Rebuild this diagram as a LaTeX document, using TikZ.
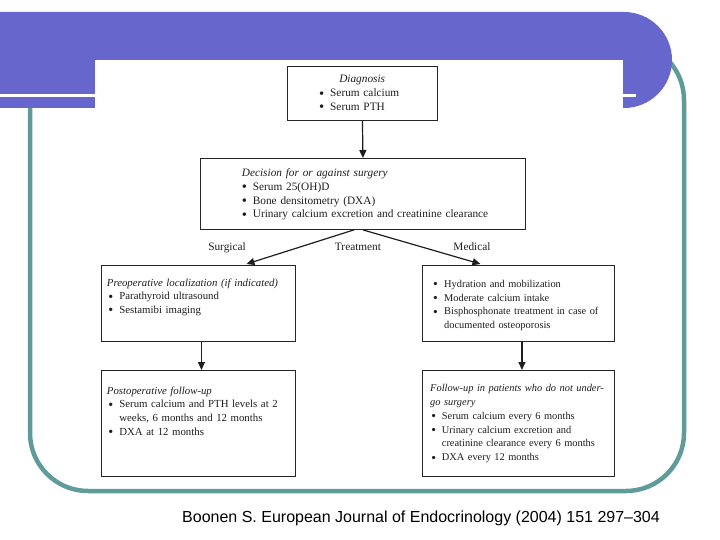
\documentclass[tikz,border=0pt]{standalone}
\usepackage{fontspec}
\setmainfont{Liberation Serif}
\newfontfamily\citefont{Liberation Sans}
\usetikzlibrary{arrows.meta,calc}
\definecolor{banner}{HTML}{6666CC}
\definecolor{frameteal}{HTML}{5F9B98}
\definecolor{ink}{HTML}{1E1E1E}
\newdimen\textind \newdimen\bulw
\newcommand\itmx[1]{\noindent\hangindent=\textind\hangafter=0\relax\llap{\makebox[\bulw][l]{\raisebox{-1.3pt}{\scalebox{1.3}{\textbullet}}}}#1}
\newcommand\itm[1]{\par\itmx{#1}}
\begin{document}
\begin{tikzpicture}[x=1pt,y=-1pt,
  boxst/.style={draw=black!85, line width=0.9pt, fill=white, inner sep=0pt, anchor=north west},
  txt/.style={anchor=base west, inner sep=0pt, text width=#1, align=left, text=ink,
    font=\fontsize{11.3}{13.8}\selectfont},
  lbl/.style={anchor=base, inner sep=0pt, text=ink, font=\fontsize{11.3}{13.8}\selectfont},
  fsmall/.style={font=\fontsize{10.8}{13.8}\selectfont},
  fsmaller/.style={font=\fontsize{10.4}{13.8}\selectfont},
  arr/.style={draw=ink, line width=1.2pt, -{Triangle[length=8pt,width=7pt]}}]
\fill[white] (0,0) rectangle (720,540);
\useasboundingbox (0,0) rectangle (720,540);
% frame and banner
\draw[frameteal, line width=4.5pt, rounded corners=58pt] (30,42) rectangle (684,491);
\fill[banner] (0,12) -- (624,12) arc[start angle=-90, end angle=90, radius=48] -- (0,108) -- cycle;
\draw[white, line width=3pt] (0,96) -- (636,96);
\fill[white] (95,60) rectangle (623,112);
% boxes
\node[boxst, minimum width=150pt, minimum height=54pt] (diag) at (287,66) {};
\node[boxst, minimum width=325pt, minimum height=71pt] (dec) at (200,158) {};
\node[boxst, minimum width=194pt, minimum height=76pt] (pre) at (101,265) {};
\node[boxst, minimum width=192pt, minimum height=76pt] (med) at (422,265) {};
\node[boxst, minimum width=194pt, minimum height=106pt] (post) at (101,370) {};
\node[boxst, minimum width=192pt, minimum height=106pt] (fol) at (422,370) {};
% texts
\node[txt=150pt] (tdiag) at (287,83) {\textind=43pt\bulw=11pt{\centering\textit{Diagnosis}\par}\itm{Serum calcium}\itm{Serum PTH}\par};
\node[txt=290pt] (tdec) at (241.7,176.5) {\textind=11pt\bulw=11pt\textit{Decision for or against surgery}\itm{Serum 25(OH)D}\itm{Bone densitometry (DXA)}\itm{Urinary calcium excretion and creatinine clearance}\par};
\node[txt=250pt, fsmall] (tpre) at (106.7,286) {\textind=12.5pt\bulw=11pt\textit{Preoperative localization (if indicated)}\itm{Parathyroid ultrasound}\itm{Sestamibi imaging}\par};
\node[txt=250pt, fsmaller] (tmed) at (430,287.3) {\textind=14pt\bulw=11pt\itmx{Hydration and mobilization}\itm{Moderate calcium intake}\itm{Bisphosphonate treatment in case of\newline documented osteoporosis}\par};
\node[txt=250pt, fsmall] (tpost) at (106.7,394) {\textind=12.5pt\bulw=11pt\textit{Postoperative follow-up}\itm{Serum calcium and PTH levels at 2\newline weeks, 6 months and 12 months}\itm{DXA at 12 months}\par};
\node[txt=250pt, fsmaller] (tfol) at (430,391.7) {\textind=11.7pt\bulw=10.5pt\textit{Follow-up in patients who do not under-\newline go surgery}\itm{Serum calcium every 6 months}\itm{Urinary calcium excretion and\newline creatinine clearance every 6 months}\itm{DXA every 12 months}\par};
% labels
\node[lbl] (lsur) at (227,251) {Surgical};
\node[lbl] (ltre) at (358,251) {Treatment};
\node[lbl] (lmed) at (472,251) {Medical};
% arrows
\draw[arr] (diag.south) -- (dec.north);
\draw[arr] ($(dec.south)+(-9,0)$) -- ($(pre.north)+(48,-1)$);
\draw[arr] ($(dec.south)+(0,0)$) -- ($(med.north)+(-38,-1)$);
\draw[arr] ($(pre.south)+(3,0)$) -- ($(post.north)+(3,0)$);
\draw[arr] ($(med.south)+(3.5,0)$) -- ($(fol.north)+(3.5,0)$);
% citation
\node[anchor=base west, inner sep=0pt, text=black, font=\citefont\fontsize{16}{18}\selectfont] (cite) at (182,522) {Boonen S. European Journal of Endocrinology (2004) 151 297–304};
\end{tikzpicture}
\end{document}
